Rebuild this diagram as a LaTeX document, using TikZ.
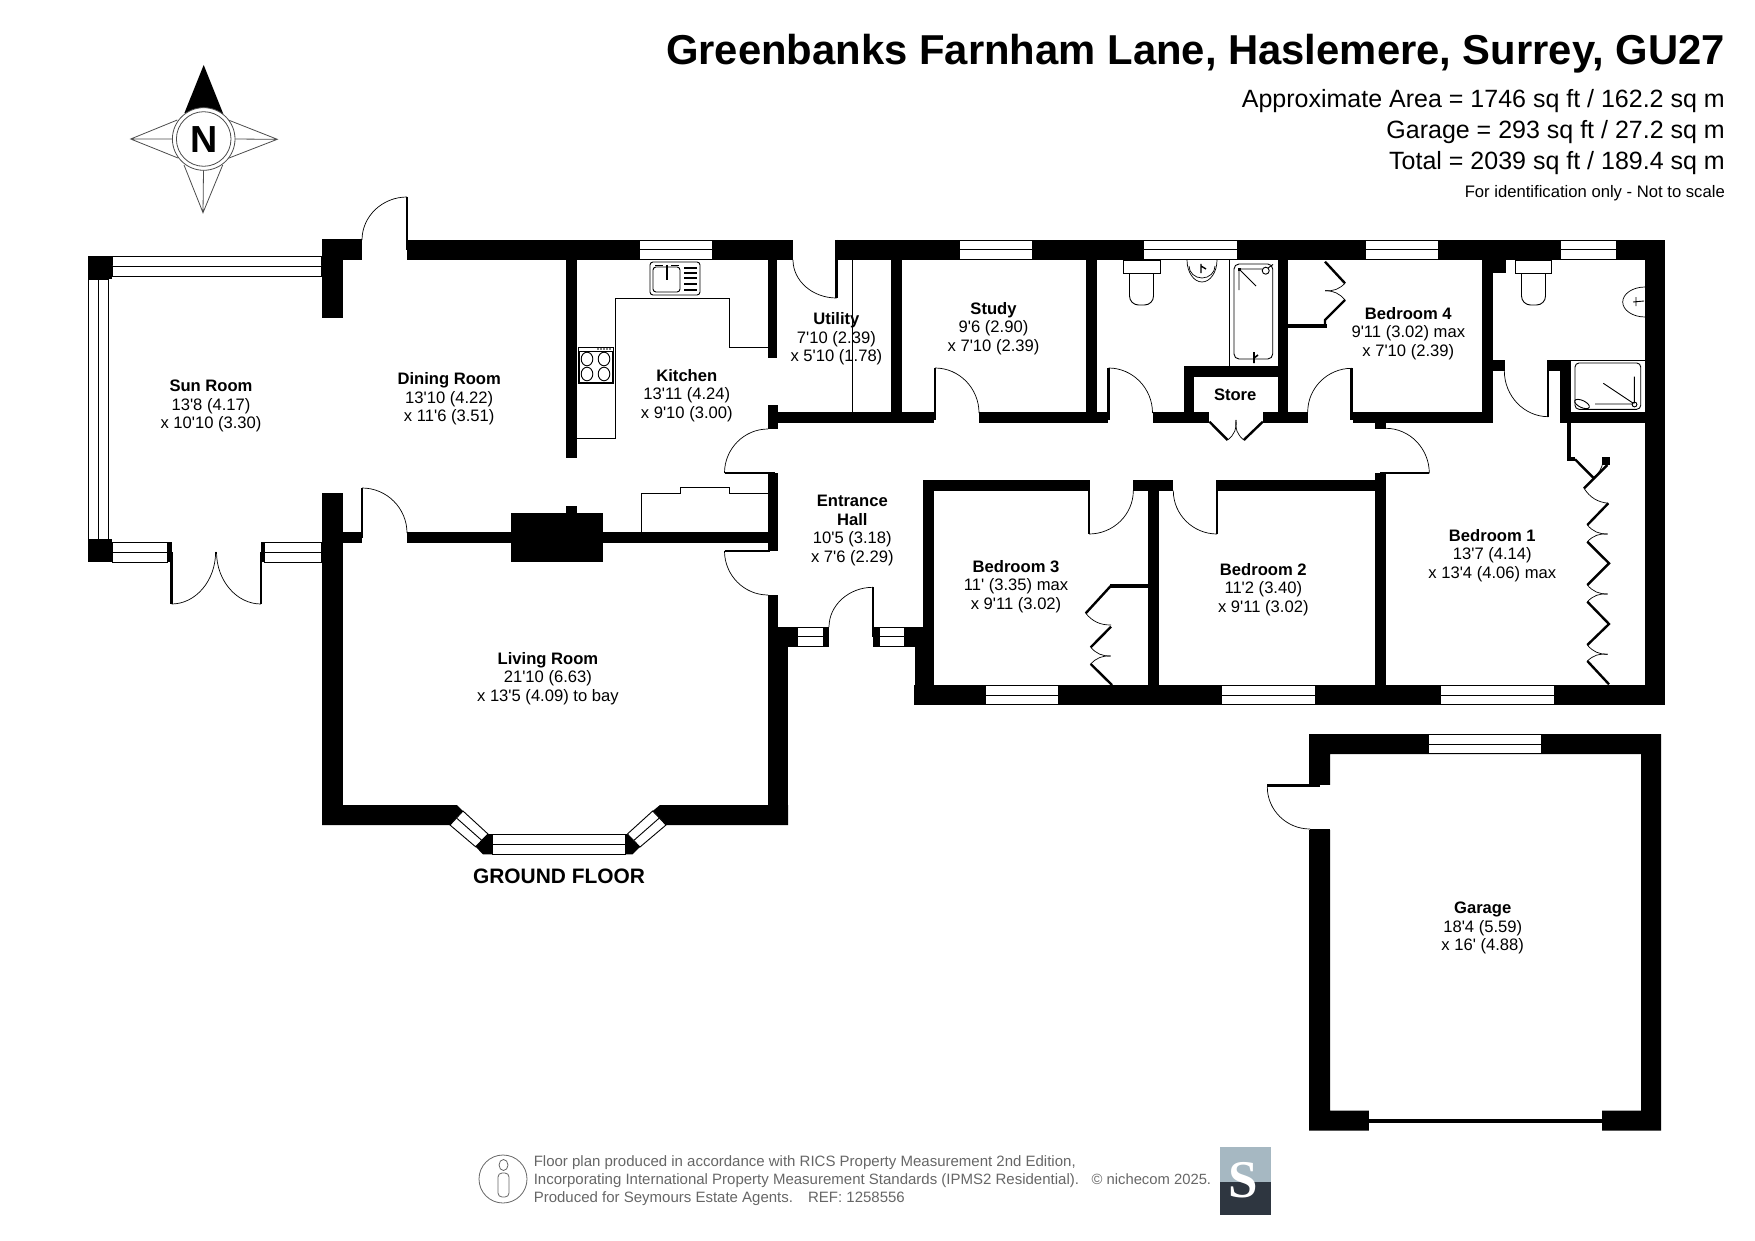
\documentclass[tikz,border=0pt]{standalone}
\usepackage{fontspec}
\setmainfont{Liberation Sans}[Ligatures=TeXOff]
\newfontfamily\logofont{Liberation Serif}
\usetikzlibrary{calc}
\definecolor{footgray}{HTML}{666666}
\definecolor{logotop}{HTML}{A6B8C2}
\definecolor{logobot}{HTML}{2E3640}
\tikzset{
  wall/.style={fill=black},
  pane/.style={draw=black,fill=white,line width=.9pt},
  fitting/.style={draw=black,line width=.9pt},
  swingline/.style={draw=black,line width=.7pt},
  leaf/.style={draw=black,line width=2.6pt},
  robe/.style={draw=black,line width=2.4pt},
  compassline/.style={draw=black!70,line width=.8pt},
  room/.style={align=center,inner sep=0pt,font=\fontsize{16.6}{18.7}\selectfont},
  foot/.style={anchor=base west,inner sep=0pt,text=footgray,font=\fontsize{15}{17}\selectfont},
  headline/.style={anchor=base east,inner sep=0pt,font=\fontsize{25}{30}\selectfont},
}
% door swing: start, corner, end
\newcommand{\swing}[3]{\draw[swingline] (#1) .. controls ($(#1)!.55!(#2)$) and ($(#3)!.55!(#2)$) .. (#3);}
% window between two x values, or two y values
\newcommand{\hwin}[4]{\draw[pane] (#1,#3) rectangle (#2,#4); \draw[pane] (#1,{(#3+#4)/2}) -- (#2,{(#3+#4)/2});}
\newcommand{\vwin}[4]{\draw[pane] (#1,#3) rectangle (#2,#4); \draw[pane] ({(#1+#2)/2},#3) -- ({(#1+#2)/2},#4);}
\begin{document}
\begin{tikzpicture}[x=1pt,y=-1pt]
\useasboundingbox (0,0) rectangle (1755,1241);

% walls
\foreach \xa/\ya/\xb/\yb in {
  322/239/362/260, 322/239/342.6/318, 407/240/639/260, 712/240/793/260,
  836.5/240/959/260, 1032/240/1143.6/260, 1237/240/1365/260, 1438.7/240/1560.7/260,
  1616/240/1665/260, 1645/240/1665/705, 88/256/112/279, 88/539/112/562,
  322/493/342.6/825, 342.6/532/362/543, 407/532/768/543, 511/513/603/562,
  566/506/577/513, 566/260/577/458, 768/260/777/358, 768/405/778/429,
  778/412/934/422.6, 979/412/1108/422.6, 1152.6/412/1208.7/422.6, 1263/412/1307.7/422.6,
  1352.7/412/1492.7/422.6, 768/473/778/551, 768/595/778/627, 767.6/627/788/825,
  778/627/797.5/647, 823.6/627/829/647, 873/627/879/647, 904.4/627/923/647,
  914.5/647/934/705, 914/685/985/705, 1058/685/1221.7/705, 1315/685/1440.7/705,
  1554/685/1665/705, 923/480/934/647, 923/480/1089/490.7, 1133/480/1173/490.7,
  1148/490/1159/685, 1110/584/1148/588, 1217.7/480/1375/490.7, 1375/473/1385.7/685,
  1375.3/422.6/1385.7/429, 891/260/902/412, 1086/260/1097/412, 1183.5/366/1194/412,
  1183.5/366/1277.6/376.7, 1277.6/260/1288/412, 1287.7/324/1327/327.7, 1482.3/260/1492.7/412,
  1492.7/260/1506/272.7, 1492.7/360/1505/370.7, 1548.3/360/1571/370.7, 1560/360/1571/422.6,
  1560/412/1645/422.6, 1567.3/422/1571/460, 1567.3/457/1575/461, 1601.7/457.3/1610/465,
  167/542/171.5/562, 261/542/264.6/562}
  \fill[wall] (\xa,\ya) rectangle (\xb,\yb);
\fill[wall] (322,805) -- (457,805) -- (463,811) -- (450,825) -- (322,825) -- cycle;
\fill[wall] (660,805) -- (652.7,811) -- (666,825) -- (788,825) -- (788,805) -- cycle;
\fill[wall] (488,834) -- (492,834) -- (492,854.3) -- (483,854.3) -- (475.5,846.7) -- cycle;
\fill[wall] (625,834) -- (627.4,834) -- (640,847) -- (632.5,854.3) -- (625,854.3) -- cycle;
% garage
\fill[wall,even odd rule] (1309,734) rectangle (1661,1130.7) (1330,754) rectangle (1641,1110.7);
\fill[white] (1308,785) rectangle (1331,829.5);
\fill[white] (1369,1110) rectangle (1602,1131);
\fill[wall] (1369,1119) rectangle (1602,1122.7);

% windows
\hwin{112}{321.5}{256}{276}
\vwin{88}{108.5}{279}{539}
\hwin{112}{167}{542}{562}
\hwin{264.6}{321.5}{542}{562}
\hwin{639}{712}{240}{259.5}
\hwin{959}{1032}{240}{259.5}
\hwin{1143.6}{1237}{240}{259.5}
\hwin{1365}{1438.7}{240}{259.5}
\hwin{1560.7}{1616}{240}{259.5}
\hwin{985}{1058}{685.5}{704.5}
\hwin{1221.7}{1315}{685.5}{704.5}
\hwin{1440.7}{1554}{685.5}{704.5}
\hwin{797.5}{823.6}{627}{646.7}
\hwin{879}{904.4}{627}{646.7}
\hwin{492}{625}{834}{854}
\hwin{1428.7}{1541.7}{734.5}{753.5}
\draw[pane] (463,811) -- (450,825) -- (475.5,846.7) -- (488,834) -- cycle;
\draw[pane] (456.5,818) -- (481.7,840.3);
\draw[pane] (627.4,834) -- (640,847) -- (666,825) -- (652.7,811) -- cycle;
\draw[pane] (633.7,840.5) -- (659.3,818);

% doors
\draw[leaf] (407,197) -- (407,250);
\swing{407,197}{362,197}{362,240}
\draw[leaf] (171.5,552) -- (171.5,604);
\swing{171.5,604}{215.6,604}{215.6,552}
\draw[leaf] (261,552) -- (261,604);
\swing{261,604}{216.5,604}{216.5,552}
\draw[leaf] (362,488) -- (362,538);
\swing{362,488}{407,488}{407,533}
\draw[leaf] (724.5,473) -- (775,473);
\swing{724.5,473}{724.5,429}{768,429}
\draw[swingline,line width=1.4pt] (724.5,551) -- (770,551);
\swing{724.5,551}{724.5,595}{768,595}
\draw[leaf] (836.5,240) -- (836.5,298);
\swing{836.5,298}{793,298}{793,260}
\draw[leaf] (935,368) -- (935,420);
\swing{935,368}{979,368}{979,413}
\draw[leaf] (1108.5,368) -- (1108.5,420);
\swing{1108.5,368}{1152.5,368}{1152.5,413}
\draw[leaf] (1351.7,368) -- (1351.7,420);
\swing{1351.7,368.3}{1307.7,368.3}{1307.7,412}
\draw[leaf] (873,587.3) -- (873,637);
\swing{873,587.3}{829,587.3}{829,627}
\draw[leaf] (1089,480) -- (1089,534);
\swing{1089,534}{1133.3,534}{1133.3,490.7}
\draw[leaf] (1217,480) -- (1217,534);
\swing{1217,534}{1173.3,534}{1173.3,490.7}
\draw[leaf] (1380,473) -- (1429.3,473);
\swing{1429.3,473.3}{1429.3,428.3}{1385.7,428.3}
\draw[leaf,line width=1.8pt] (1548.3,360) -- (1548.3,417);
\swing{1548.3,416.7}{1504.3,416.7}{1504.3,370.7}
\draw[leaf] (1267.3,785.5) -- (1320,785.5);
\swing{1267.3,787}{1267.3,829}{1310,829}
\draw[swingline] (1310,829) -- (1330,829);

% store and wardrobes
\draw[robe] (1209.4,421.7) -- (1227.6,440);
\draw[robe] (1262.8,421.7) -- (1243.8,440);
\draw[swingline] (1227.6,440) to[bend right=30] (1236,420);
\draw[swingline] (1243.8,440) to[bend left=30] (1236,420);
\draw[robe] (1325,261.7) -- (1345,283.3);
\draw[swingline] (1345,283.3) to[bend left=25] (1325,290.7);
\draw[swingline] (1325,290.7) to[bend left=25] (1345,300);
\draw[robe] (1345,300) -- (1325,320) -- (1325,326);
\draw[robe] (1110.7,586) -- (1085.7,613.3);
\draw[swingline] (1085.7,613.3) to[bend right=25] (1111,625);
\draw[robe] (1111,626.7) -- (1090.7,647.3);
\draw[swingline] (1090.7,647.3) to[bend right=25] (1110.7,656);
\draw[swingline] (1110.7,656) to[bend right=25] (1090.7,664);
\draw[robe] (1090.7,664) -- (1112,685);
\draw[robe] (1575,459.3) -- (1593.3,477.7);
\draw[swingline] (1603,462) to[bend left=20] (1593.3,477.7);
\draw[robe] (1607.3,465) -- (1584,488.3);
\draw[swingline] (1584,488.3) to[bend right=25] (1608.3,503.3);
\draw[robe] (1608.3,503.3) -- (1587.3,525);
\draw[swingline] (1587.3,525) to[bend right=25] (1607.7,534);
\draw[swingline] (1607.7,534) to[bend right=25] (1587.3,541.7);
\draw[robe] (1587.3,541.7) -- (1609,563.3) -- (1587.3,585);
\draw[swingline] (1587.3,585) to[bend right=25] (1607.7,594);
\draw[swingline] (1607.7,594) to[bend right=25] (1587.3,601.7);
\draw[robe] (1587.3,601.7) -- (1609,624) -- (1587.3,645);
\draw[swingline] (1587.3,645) to[bend right=25] (1607.7,654.3);
\draw[swingline] (1607.7,654.3) to[bend right=25] (1587.3,661);
\draw[robe] (1587.3,661) -- (1609,684.3);

% kitchen
\draw[fitting] (577,438) -- (615.5,438) -- (615.5,298) -- (729.5,298) -- (729.5,347) -- (768,347);
\draw[fitting] (641.7,532) -- (641.7,493) -- (680,493) -- (680,487) -- (729.5,487) -- (729.5,493) -- (768,493);
\draw[fitting,rounded corners=3pt] (650,262) rectangle (700,295);
\draw[fitting,rounded corners=3pt] (653,267) rectangle (680,292);
\draw[fitting,line width=1.6pt] (667,265) -- (667,280);
\draw[fitting] (655,265) -- (663,265) (671,265) -- (679,265);
\foreach \yy in {268,273,278,284,290}
  \draw[fitting,line width=1.3pt] (684,\yy) -- (697,\yy);
\draw[fitting] (578,347) rectangle (613,383);
\draw[fitting] (579,351) rectangle (612,382);
\foreach \xx/\yy in {587/359,604/359,587/374,604/374}
  \draw[fitting] (\xx,\yy) ellipse (5.8pt and 6.8pt);
\foreach \xx in {598,601,604,607,610}
  \fill (\xx,349) circle (.9pt);
\draw[fitting] (852,260) -- (852,412);

% bathroom
\draw[fitting] (1229.4,260) -- (1229.4,365.7);
\draw[fitting,rounded corners=5pt] (1234,264) rectangle (1272.7,359);
\draw[fitting] (1239,269) -- (1262,269) (1239,269) -- (1239,290) (1239,269) -- (1256,286);
\draw[fitting] (1238,268) rectangle (1240.5,270.5);
\draw[fitting] (1265.7,270.7) circle (3.5pt);
\draw[fitting] (1268,268) -- (1273,264.5);
\draw[fitting,line width=1.6pt] (1254,352) -- (1254,363) (1254,358) -- (1258,355);
\draw[fitting] (1123,260) rectangle (1160,273.3);
\draw[fitting,rounded corners=9pt] (1129.5,273.3) -- (1129.5,305) -- (1153.5,305) -- (1153.5,273.3);
\swing{1187,260}{1187,282}{1202,282}
\swing{1217,260}{1217,282}{1202,282}
\swing{1189,266}{1189,278}{1202,278}
\swing{1215,266}{1215,278}{1202,278}
\draw[fitting,line width=1.4pt] (1201,264) -- (1201,273) (1201,266) -- (1206,269);
% en suite
\draw[fitting] (1515.7,260) rectangle (1551.7,273);
\draw[fitting,rounded corners=9pt] (1521.5,273) -- (1521.5,305) -- (1545.5,305) -- (1545.5,273);
\swing{1645,287}{1622.7,287}{1622.7,302}
\swing{1622.7,302}{1622.7,317}{1645,317}
\draw[fitting] (1633,302) -- (1644,301) (1636,297) -- (1636,306);
\draw[fitting] (1571,360) -- (1645,360);
\draw[fitting,rounded corners=4pt] (1575,363) rectangle (1640.7,409.3);
\draw[fitting] (1603.3,383.3) -- (1633.3,403.3) (1634.3,376.7) -- (1634.3,403.3) (1595,404) -- (1633,404);
\draw[fitting] (1634.5,404.5) circle (2.4pt);
\draw[fitting,rotate around={-25:(1582,404)}] (1582,404) ellipse (8pt and 3.5pt);

% rooms
\node[room] (sunroom) at (211,406) {\textbf{Sun Room}\\13'8 (4.17)\\x 10'10 (3.30)};
\node[room] (diningroom) at (449.2,399) {\textbf{Dining Room}\\13'10 (4.22)\\x 11'6 (3.51)};
\node[room] (kitchen) at (686.8,395.5) {\textbf{Kitchen}\\13'11 (4.24)\\x 9'10 (3.00)};
\node[room] (utility) at (836.4,339) {\textbf{Utility}\\7'10 (2.39)\\x 5'10 (1.78)};
\node[room] (study) at (993.5,328.5) {\textbf{Study}\\9'6 (2.90)\\x 7'10 (2.39)};
\node[room] (store) at (1235.2,394.3) {\textbf{Store}};
\node[room] (bedfour) at (1408.3,333.5) {\textbf{Bedroom 4}\\9'11 (3.02) max\\x 7'10 (2.39)};
\node[room] (bedone) at (1492.3,555.5) {\textbf{Bedroom 1}\\13'7 (4.14)\\x 13'4 (4.06) max};
\node[room] (bedtwo) at (1263.3,589.5) {\textbf{Bedroom 2}\\11'2 (3.40)\\x 9'11 (3.02)};
\node[room] (bedthree) at (1016,586.5) {\textbf{Bedroom 3}\\11' (3.35) max\\x 9'11 (3.02)};
\node[room] (hall) at (852.3,530.5) {\textbf{Entrance}\\\textbf{Hall}\\10'5 (3.18)\\x 7'6 (2.29)};
\node[room] (living) at (547.9,678.5) {\textbf{Living Room}\\21'10 (6.63)\\x 13'5 (4.09) to bay};
\node[room] (garage) at (1482.7,928) {\textbf{Garage}\\18'4 (5.59)\\x 16' (4.88)};
\node[inner sep=0pt,font=\fontsize{20.9}{21}\selectfont\bfseries] (floorname) at (559,876.5) {GROUND FLOOR};

% heading
\node[anchor=base east,inner sep=0pt,font=\fontsize{41.8}{48}\selectfont\bfseries] (title) at (1725,65) {Greenbanks Farnham Lane, Haslemere, Surrey, GU27};
\node[headline] (area) at (1725,108) {Approximate Area = 1746 sq ft / 162.2 sq m};
\node[headline] (garagearea) at (1725,139) {Garage = 293 sq ft / 27.2 sq m};
\node[headline] (total) at (1725,170) {Total = 2039 sq ft / 189.4 sq m};
\node[anchor=base east,inner sep=0pt,font=\fontsize{16.65}{20}\selectfont] (scalenote) at (1725,198) {For identification only - Not to scale};

% compass
\draw[compassline] (177.3,120) -- (130.7,139) -- (178,158) (130.7,139) -- (176,139);
\draw[compassline] (228.3,120) -- (277.3,139.3) -- (228.3,158.3) (231,139) -- (277.3,139.3);
\draw[compassline] (184,165) -- (203,212.7) -- (222.7,165) (203.5,170) -- (203,212.7);
\fill (184.3,113.3) -- (203.7,65) -- (223.3,114) -- (203.7,108) -- cycle;
\draw[compassline,fill=white] (203.7,139) circle (31.3pt);
\draw[compassline] (203.7,139) circle (27.3pt);
\node[inner sep=0pt,font=\fontsize{37.7}{38}\selectfont\bfseries] (north) at (203.7,140) {N};

% footer
\draw[footgray,line width=.8pt] (503,1179) circle (24pt);
\draw[footgray,line width=.8pt] (503.5,1165) ellipse (4.5pt and 5.5pt);
\draw[footgray,line width=.8pt,rounded corners=4pt] (498,1173) rectangle (509,1197);
\node[foot] (footone) at (533.6,1166) {Floor plan produced in accordance with RICS Property Measurement 2nd Edition,};
\node[foot] (foottwo) at (533.6,1184) {Incorporating International Property Measurement Standards (IPMS2 Residential).};
\node[foot] (footthree) at (533.6,1202) {Produced for Seymours Estate Agents.\quad REF: 1258556};
\node[foot,font=\fontsize{14.8}{17}\selectfont] (copyright) at (1091.4,1184) {© nichecom 2025.};
\fill[logotop] (1219.5,1147) rectangle (1270.5,1181.7);
\fill[logobot] (1219.5,1181.7) rectangle (1270.5,1215);
\node[inner sep=0pt,text=white,font=\logofont\fontsize{53}{53}\selectfont\bfseries] (logo) at (1243.5,1180.5) {S};
\end{tikzpicture}
\end{document}
